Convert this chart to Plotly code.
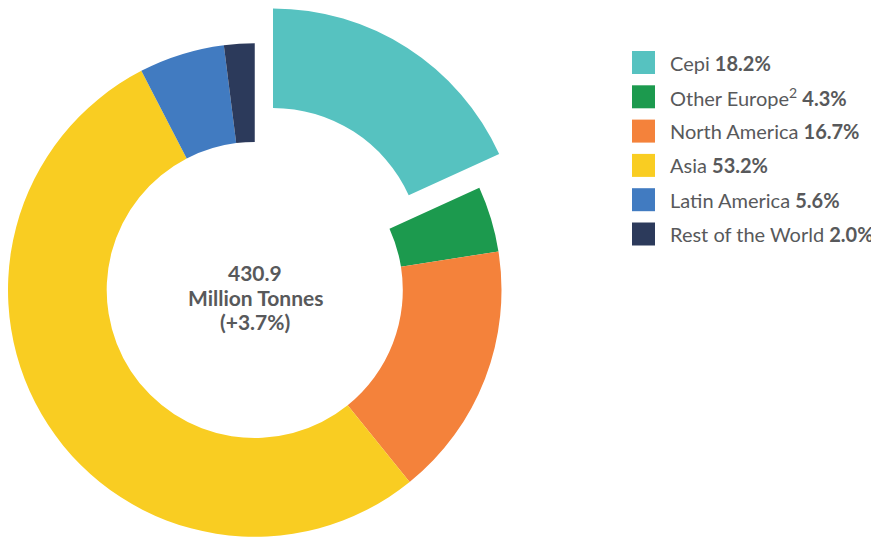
import plotly.graph_objects as go

# ---- data ----
labels = ["Cepi", "Other Europe<sup>2</sup>", "North America", "Asia", "Latin America", "Rest of the World"]
values = [18.2, 4.3, 16.7, 53.2, 5.6, 2.0]
colors = ["#56C2C0", "#1C9A4E", "#F4823B", "#F9CD22", "#417BC1", "#2C3A5B"]
pulled_label = "Cepi"
center_lines = ["430.9", "Million Tonnes", "(+3.7%)"]

W, H = 879, 542
OFF = 8  # page body margin offset
TXT = "#58595B"
FONT = "Lato"

# geometry (pixels, in reference coordinates minus page offset)
cx, cy, r = 253.0 - OFF, 290.0 - OFF, 248.5
pull_dx, pull_dy = 20.0, -33.0

def dom(cx_, cy_, r_):
    x0 = max(0.0, (cx_ - r_) / W); x1 = min(1.0, (cx_ + r_) / W)
    y0 = max(0.0, (H - (cy_ + r_)) / H); y1 = min(1.0, (H - (cy_ - r_)) / H)
    return dict(x=[x0, x1], y=[y0, y1])

transparent = "rgba(0,0,0,0)"
colors_main = [transparent if l == pulled_label else c for l, c in zip(labels, colors)]
colors_pull = [c if l == pulled_label else transparent for l, c in zip(labels, colors)]

fig = go.Figure()
common = dict(labels=labels, values=values, hole=0.6, sort=False, direction="clockwise",
              rotation=0, textinfo="none", hoverinfo="label+percent", showlegend=False)
fig.add_trace(go.Pie(marker=dict(colors=colors_main, line=dict(width=0)),
                     domain=dom(cx, cy, r), **common))
fig.add_trace(go.Pie(marker=dict(colors=colors_pull, line=dict(width=0)),
                     domain=dom(cx + pull_dx, cy + pull_dy, r), **common))

# center label
annotations = []
center_y = [272.5 - OFF, 297 - OFF, 321.5 - OFF]
for t, yy in zip(center_lines, center_y):
    annotations.append(dict(x=(255 - OFF) / W, y=1 - yy / H, xref="paper", yref="paper",
                            text=f"<b>{t}</b>", showarrow=False,
                            font=dict(family=FONT, size=21, color=TXT),
                            xanchor="center", yanchor="middle"))

# custom legend
shapes = []
x0, sw, y_first, pitch = 632 - OFF, 23, 62.5 - OFF, 34.3
for i, (lab, val, col) in enumerate(zip(labels, values, colors)):
    yc = y_first + i * pitch
    shapes.append(dict(type="rect", xref="paper", yref="paper",
                       x0=x0 / W, x1=(x0 + sw) / W,
                       y0=1 - (yc + sw / 2) / H, y1=1 - (yc - sw / 2) / H,
                       fillcolor=col, line=dict(width=0)))
    annotations.append(dict(x=(668 - OFF) / W, y=1 - yc / H, xref="paper", yref="paper",
                            text=f"{lab} <b>{val:.1f}%</b>", showarrow=False,
                            xanchor="left", yanchor="middle",
                            font=dict(family=FONT, size=20, color=TXT)))

fig.update_layout(width=W, height=H, margin=dict(l=0, r=0, t=0, b=0),
                  paper_bgcolor="white", plot_bgcolor="white",
                  annotations=annotations, shapes=shapes,
                  font=dict(family=FONT, color=TXT))

fig.write_html("out.html")
